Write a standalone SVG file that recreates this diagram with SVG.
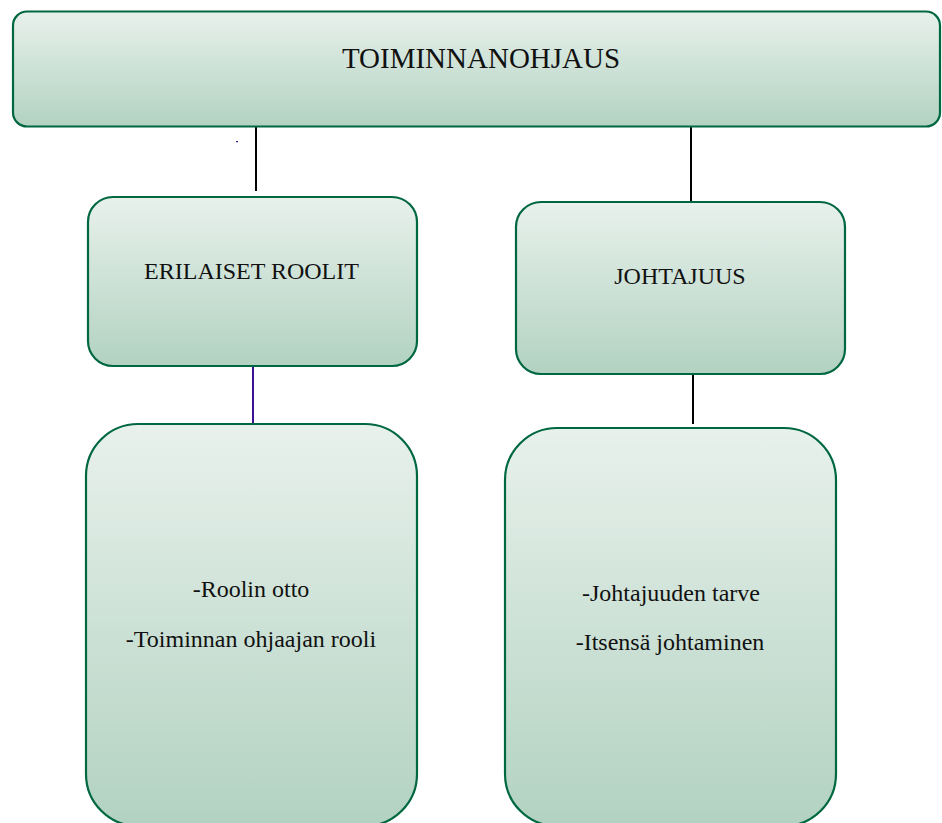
<svg xmlns="http://www.w3.org/2000/svg" width="942" height="823" viewBox="0 0 942 823">
<defs>
<linearGradient id="g" x1="0" y1="0" x2="0" y2="1">
<stop offset="0" stop-color="#e8f1ec"/>
<stop offset="1" stop-color="#b2d2c1"/>
</linearGradient>
<style>
.box{fill:url(#g);stroke:#006841;stroke-width:2.2}
.t{fill:#111;text-anchor:middle}
.c{stroke:#000;stroke-width:2;fill:none}
</style>
</defs>
<rect width="942" height="823" fill="#fff"/>
<g id="connectors">
<line class="c" x1="256" y1="125" x2="256" y2="191"/>
<line class="c" x1="691" y1="125" x2="691" y2="205"/>
<line class="c" x1="253" y1="366" x2="253" y2="424" style="stroke:#3c1192"/>
<line class="c" x1="693" y1="371" x2="693" y2="424"/>
<rect x="236" y="141" width="2" height="1.2" fill="#3c1192"/>
</g>
<g id="top">
<rect class="box" x="13" y="11.5" width="927" height="115" rx="14"/>
<text class="t" x="481" y="68" font-family="'Liberation Serif', 'Times New Roman', serif" font-size="29">TOIMINNANOHJAUS</text>
</g>
<g id="roolit">
<rect class="box" x="88" y="197" width="329" height="169" rx="25"/>
<text class="t" x="251.5" y="279" font-family="'Liberation Serif', 'Times New Roman', serif" font-size="24">ERILAISET ROOLIT</text>
</g>
<g id="johtajuus">
<rect class="box" x="516" y="202" width="329" height="172" rx="25"/>
<text class="t" x="680" y="283.5" font-family="'Liberation Serif', 'Times New Roman', serif" font-size="24">JOHTAJUUS</text>
</g>
<g id="roolit-detail">
<rect class="box" x="86" y="424" width="331" height="402" rx="52"/>
<text class="t" x="251" y="597" font-family="'Liberation Serif', 'Times New Roman', serif" font-size="24">-Roolin otto</text>
<text class="t" x="251" y="647" font-family="'Liberation Serif', 'Times New Roman', serif" font-size="24">-Toiminnan ohjaajan rooli</text>
</g>
<g id="johtajuus-detail">
<rect class="box" x="505" y="428" width="331" height="398" rx="52"/>
<text class="t" x="671" y="600.5" font-family="'Liberation Serif', 'Times New Roman', serif" font-size="24">-Johtajuuden tarve</text>
<text class="t" x="670" y="650" font-family="'Liberation Serif', 'Times New Roman', serif" font-size="24">-Itsensä johtaminen</text>
</g>
</svg>
